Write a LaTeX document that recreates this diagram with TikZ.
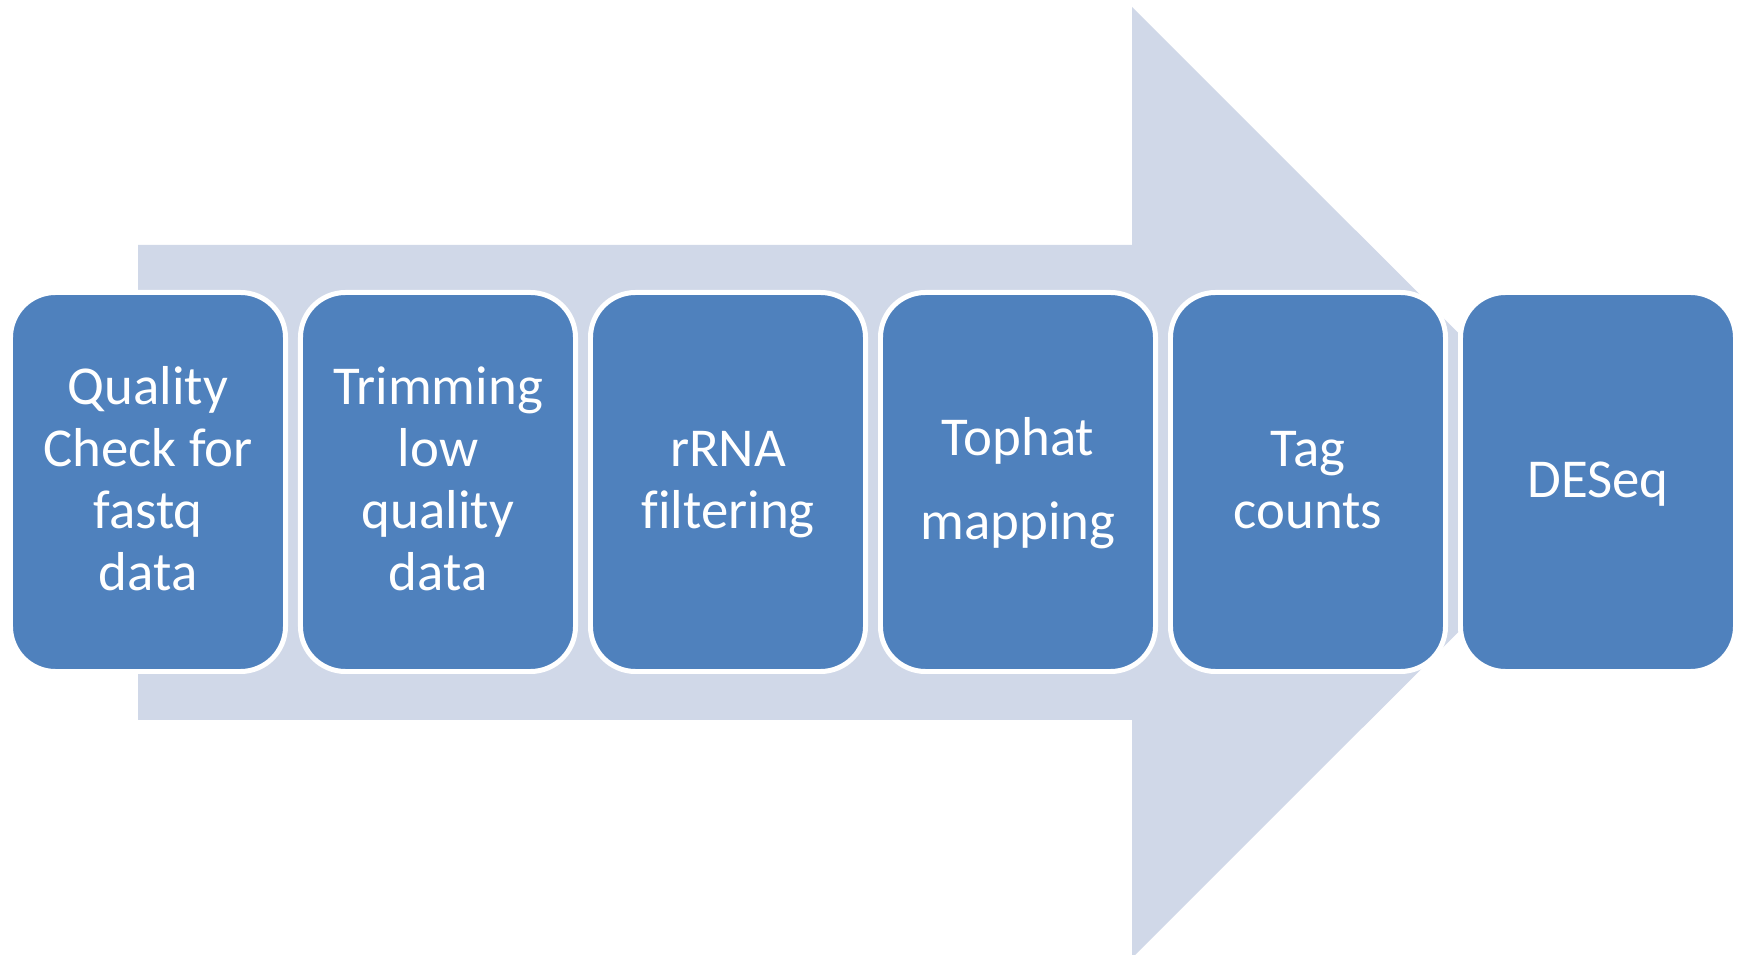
\documentclass[tikz,border=0pt]{standalone}
\usepackage{fontspec}
\setmainfont[Ligatures=CommonOff]{Carlito}
\definecolor{stepblue}{HTML}{4F81BD}
\definecolor{arrowgrey}{HTML}{D0D8E8}
% invisible struts fixing the height of the first line and the depth of the last
\newcommand\linetop{\rule{0pt}{14.2pt}}
\newcommand\linebot{\rule[-5.4pt]{0pt}{5.4pt}}
\begin{document}
\begin{tikzpicture}[x=0.28453pt,y=-0.28453pt,
  stepbox/.style={draw=white, line width=1.42pt, fill=stepblue,
    rounded corners=12.8pt, minimum width=78.25pt, minimum height=107.84pt,
    inner sep=0pt, text=white, align=center,
    font=\fontsize{15.6}{17.64}\selectfont},
  bigarrow/.style={fill=arrowgrey}]
\useasboundingbox (0,0) rectangle (1741,955);
\fill[white] (0,0) rectangle (1741,955);
\clip (0,0) rectangle (1741,955);
% block arrow behind the steps
\fill[bigarrow] (138,245) -- (1132,245) -- (1132,7) -- (1608,482.5)
  -- (1132,958) -- (1132,720) -- (138,720) -- cycle;
% the six steps
\node[stepbox] (s1) at (148,482) {\linetop Quality\\Check for\\fastq\\data\linebot};
\node[stepbox] (s2) at (438,482) {\linetop Trimming\\low\\quality\\data\linebot};
\node[stepbox] (s3) at (728,482) {\linetop rRNA\\filtering\linebot};
\node[stepbox] (s4) at (1018,482) {\linetop Tophat\\[6.5pt]mapping\linebot};
\node[stepbox] (s5) at (1308,482) {\linetop Tag\\counts\linebot};
\node[stepbox] (s6) at (1598,482) {\linetop DESeq\linebot};
\end{tikzpicture}
\end{document}
